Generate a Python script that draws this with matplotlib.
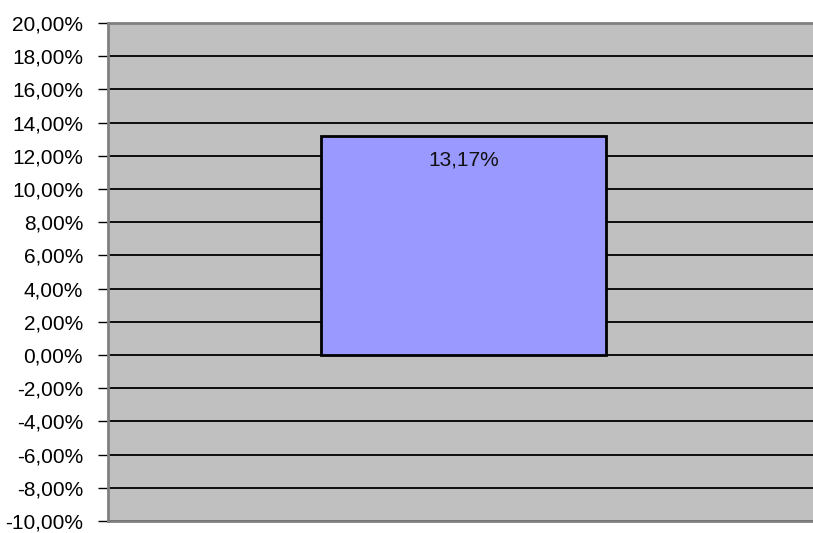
import matplotlib
matplotlib.use("Agg")
import matplotlib.pyplot as plt
from matplotlib.ticker import FuncFormatter, MultipleLocator

plt.rcParams["font.family"] = ["Liberation Sans", "DejaVu Sans"]

categories = [""]
values = [13.17]  # percent
y_min, y_max, y_step = -10, 20, 2

fig = plt.figure(figsize=(8.13, 5.33), dpi=100)
ax = fig.add_axes([108 / 813, 12 / 533, 705 / 813, 498 / 533])
ax.set_facecolor("#c0c0c0")

bars = ax.bar(range(len(values)), values, width=0.404, color="#9999ff",
              edgecolor="black", linewidth=2, zorder=3)
for rect, v in zip(bars, values):
    ax.annotate(f"{v:.2f}%".replace(".", ","), (rect.get_x() + rect.get_width() / 2, v),
                xytext=(0, -24), textcoords="offset pixels",
                ha="center", va="center", fontsize=15, color="#111111", zorder=4)

ax.set_xlim(-0.504, 0.496)
ax.set_ylim(y_min, y_max)
ax.yaxis.set_major_locator(MultipleLocator(y_step))
ax.yaxis.set_major_formatter(FuncFormatter(lambda v, _: f"{v:.2f}%".replace(".", ",")))
ax.grid(axis="y", color="black", linewidth=1.3, zorder=1)
ax.set_xticks([])
ax.tick_params(axis="y", length=7, width=1, pad=11, labelsize=15, colors="black")

for side in ("top", "left", "bottom"):
    ax.spines[side].set_color("#808080")
    ax.spines[side].set_linewidth(2)
ax.spines["right"].set_visible(False)

fig.savefig("out.png", dpi=100)
